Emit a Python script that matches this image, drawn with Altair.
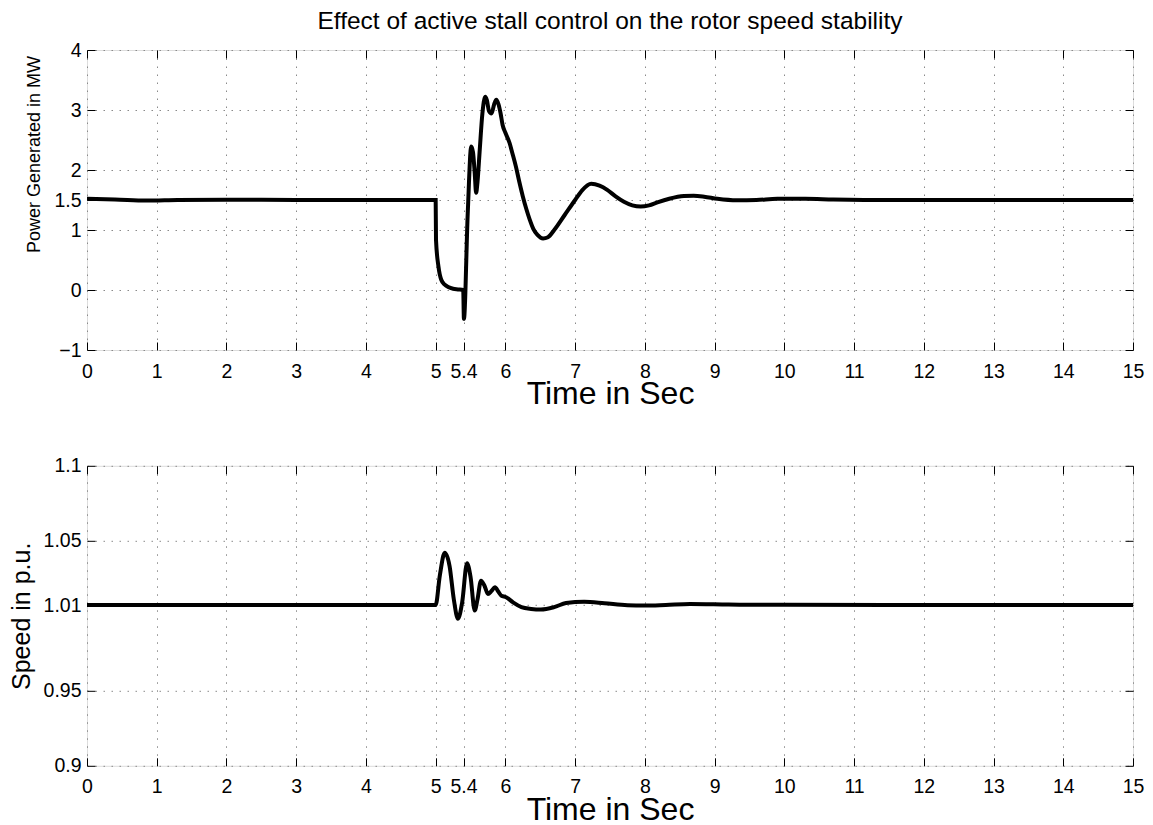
import altair as alt
import pandas as pd

# ---------------- data ----------------
t_power = [0.0, 0.4, 0.85, 1.3, 2.0, 3.0, 4.0, 5.0, 5.005, 5.04, 5.08, 5.13, 5.18, 5.25,
           5.32, 5.395, 5.405, 5.46, 5.51, 5.535, 5.56, 5.58, 5.60, 5.63, 5.67, 5.71,
           5.735, 5.765, 5.80, 5.84, 5.87, 5.90, 5.93, 5.96, 6.0, 6.06, 6.10, 6.15, 6.20,
           6.25, 6.30, 6.35, 6.40, 6.46, 6.54, 6.61, 6.70, 6.85, 7.0, 7.10, 7.23, 7.35,
           7.46, 7.58, 7.70, 7.82, 7.94, 8.06, 8.18, 8.35, 8.56, 8.70, 8.85, 9.04, 9.32,
           9.6, 9.9, 10.3, 10.7, 11.5, 13.0, 15.0]
power = [1.52, 1.51, 1.49, 1.50, 1.505, 1.50, 1.50, 1.50, 0.83, 0.39, 0.17, 0.09, 0.05, 0.02,
         0.01, 0.0, -0.48, 1.28, 2.39, 2.30, 1.95, 1.62, 1.80, 2.30, 2.94, 3.22,
         3.16, 2.98, 2.94, 3.10, 3.17, 3.10, 2.95, 2.75, 2.62, 2.45, 2.28, 2.06, 1.80,
         1.56, 1.35, 1.17, 1.02, 0.92, 0.86, 0.88, 1.00, 1.25, 1.50, 1.66, 1.77, 1.74,
         1.67, 1.56, 1.47, 1.41, 1.39, 1.41, 1.46, 1.52, 1.565, 1.57, 1.555, 1.52, 1.495,
         1.50, 1.52, 1.52, 1.51, 1.50, 1.50, 1.50]

t_speed = [0.0, 2.0, 4.0, 5.0, 5.06, 5.13, 5.20, 5.26, 5.32, 5.38, 5.45, 5.50, 5.56, 5.60,
           5.65, 5.70, 5.75, 5.80, 5.85, 5.90, 5.94, 6.01, 6.11, 6.23, 6.37, 6.51, 6.70,
           6.87, 7.13, 7.42, 7.75, 8.0, 8.3, 8.65, 9.2, 10.0, 12.0, 15.0]
speed = [1.0072, 1.0072, 1.0072, 1.0072, 1.027, 1.042, 1.033, 1.011, 0.998, 1.009, 1.035,
         1.026, 1.0035, 1.011, 1.0234, 1.020, 1.0146, 1.0165, 1.019, 1.016, 1.0135, 1.0124,
         1.009, 1.0058, 1.0046, 1.0042, 1.0058, 1.0085, 1.0094, 1.0084, 1.0070, 1.0068,
         1.0072, 1.0078, 1.0075, 1.0073, 1.0072, 1.0072]

x_ticks = [0, 1, 2, 3, 4, 5, 5.4, 6, 7, 8, 9, 10, 11, 12, 13, 14, 15]
x_tick_labels = ["0", "1", "2", "3", "4", "5", "5.4", "6", "7", "8", "9", "10", "11",
                 "12", "13", "14", "15"]
power_ticks = [-1, 0, 1, 1.5, 2, 3, 4]
power_tick_labels = ["\u22121", "0", "1", "1.5", "2", "3", "4"]
speed_ticks = [0.9, 0.95, 1.0072, 1.05, 1.1]
speed_tick_labels = ["0.9", "0.95", "1.01", "1.05", "1.1"]

title_text = "Effect of active stall control on the rotor speed stability"
x_title = "Time in Sec"
power_title = "Power Generated in MW"
speed_title = "Speed in p.u."

# ---------------- styling ----------------
FONT = "Liberation Sans"
PLOT_W = 1046
PLOT_H = 300
GRID = dict(grid=True, gridDash=[1.5, 6.5], gridColor="#8a8a8a", gridWidth=1, gridOpacity=1)
TICKS = dict(tickSize=8, offset=-8, domain=False, tickColor="black", tickWidth=1,
             labelOverlap=False, labelFlush=False)


def label_expr(vals, labs):
    expr = "''"
    for v, l in zip(vals, labs):
        expr = f"abs(datum.value - ({v})) < 1e-6 ? '{l}' : ({expr})"
    return expr


def panel(df, ycol, ydomain, yticks, ylabels, ytitle, ytitle_size, ytitle_pad,
          ytitle_y, xtitle_pad):
    xs = alt.Scale(domain=[0, 15], nice=False, zero=False)
    ys = alt.Scale(domain=ydomain, nice=False, zero=False)
    line = alt.Chart(df).mark_line(color="black", strokeWidth=4, interpolate="monotone").encode(
        x=alt.X("t:Q", scale=xs, axis=alt.Axis(
            orient="bottom", values=x_ticks, labelExpr=label_expr(x_ticks, x_tick_labels),
            title=x_title, titleFontSize=32, titleFontWeight="normal", titlePadding=xtitle_pad,
            titleColor="black", labelFontSize=19.5, labelPadding=12, labelColor="black",
            **GRID, **TICKS)),
        y=alt.Y(f"{ycol}:Q", scale=ys, axis=alt.Axis(
            orient="left", values=yticks, labelExpr=label_expr(yticks, ylabels),
            title=ytitle, titleFontSize=ytitle_size, titleFontWeight="normal",
            titlePadding=ytitle_pad, titleY=ytitle_y, titleColor="black",
            labelFontSize=19.5, labelPadding=6, labelColor="black", **GRID, **TICKS)),
    )
    ticks = alt.Chart(df).mark_line(opacity=0).encode(
        x=alt.X("t:Q", scale=xs, axis=alt.Axis(
            orient="top", values=x_ticks, labels=False, title=None, grid=False, **TICKS)),
        y=alt.Y(f"{ycol}:Q", scale=ys, axis=alt.Axis(
            orient="right", values=yticks, labels=False, title=None, grid=False, **TICKS)),
    )
    return alt.layer(line, ticks).resolve_axis(x="independent", y="independent").properties(
        width=PLOT_W, height=PLOT_H)


df_power = pd.DataFrame({"t": t_power, "p": power})
df_speed = pd.DataFrame({"t": t_speed, "s": speed})

top = panel(df_power, "p", [-1, 4], power_ticks, power_tick_labels, power_title, 18,
            10, 104, -2).properties(
    title=alt.TitleParams(title_text, fontSize=24.5, fontWeight="normal", anchor="middle",
                          frame="group", offset=5.5, color="black", font=FONT))
bottom = panel(df_speed, "s", [0.9, 1.1], speed_ticks, speed_tick_labels, speed_title, 25,
               9, PLOT_H / 2, -2)

chart = alt.vconcat(top, bottom, spacing=44.8).properties(
    padding={"left": 0, "top": 0, "right": 0, "bottom": 0},
    background="white",
).configure_view(stroke="black", strokeWidth=1).configure(font=FONT).configure_axis(
    labelFont=FONT, titleFont=FONT)

chart.save("out.html", embed_options={"renderer": "svg", "actions": False})
